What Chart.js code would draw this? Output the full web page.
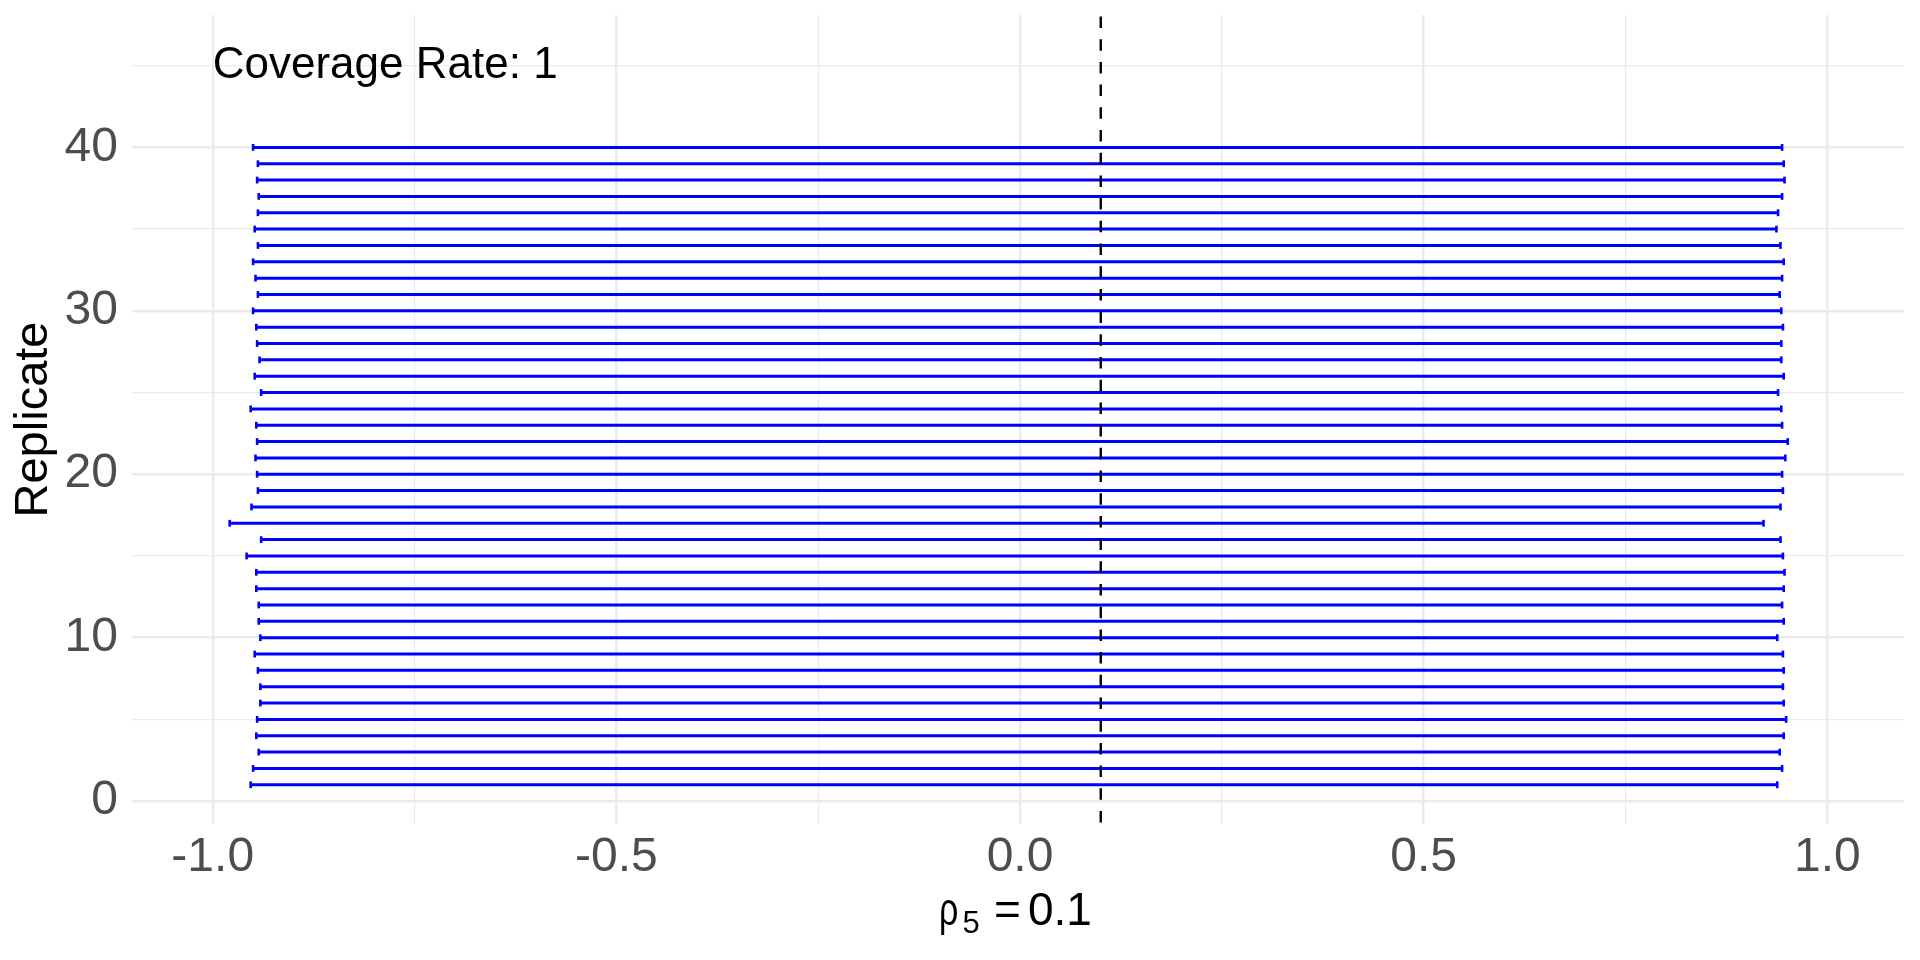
<!DOCTYPE html>
<html>
<head>
<meta charset="utf-8">
<script src="https://cdn.jsdelivr.net/npm/chart.js@4"></script>
<style>
  body { margin: 0; background: #fff; }
  #wrap { width: 1920px; height: 960px; }
</style>
</head>
<body>
<div id="wrap"><canvas id="ciChart"></canvas></div>
<script>
// replicate 1..40, interval ends
const replicates = Array.from({length: 40}, (_, i) => i + 1);
const lower = [-0.953, -0.950, -0.943, -0.946, -0.945, -0.941, -0.941, -0.944, -0.948, -0.941,
               -0.943, -0.943, -0.946, -0.946, -0.958, -0.940, -0.979, -0.952, -0.944, -0.945,
               -0.947, -0.945, -0.946, -0.953, -0.940, -0.948, -0.942, -0.945, -0.946, -0.950,
               -0.944, -0.947, -0.950, -0.944, -0.948, -0.944, -0.943, -0.945, -0.944, -0.950];
const upper = [0.938, 0.944, 0.941, 0.946, 0.949, 0.946, 0.945, 0.946, 0.945, 0.938,
               0.946, 0.944, 0.946, 0.947, 0.945, 0.942, 0.921, 0.942, 0.945, 0.944,
               0.948, 0.951, 0.944, 0.943, 0.939, 0.946, 0.943, 0.943, 0.945, 0.943,
               0.941, 0.944, 0.946, 0.942, 0.937, 0.939, 0.944, 0.947, 0.946, 0.944];
const trueValue = 0.1;
const coverageText = 'Coverage Rate: 1';
const coveragePos = {x: -1, y: 45};

const xTickVals = [-1, -0.75, -0.5, -0.25, 0, 0.25, 0.5, 0.75, 1];
const xTickLabels = {'-1': '-1.0', '-0.5': '-0.5', '0': '0.0', '0.5': '0.5', '1': '1.0'};
const yTickVals = [0, 5, 10, 15, 20, 25, 30, 35, 40, 45];
const yTickLabels = {0: '0', 10: '10', 20: '20', 30: '30', 40: '40'};

const FONT = '"Liberation Sans", Arial, sans-serif';

// build segments with null breaks between rows
const segs = [];
replicates.forEach((r, i) => {
    segs.push({x: lower[i], y: r});
    segs.push({x: upper[i], y: r});
    segs.push({x: null, y: null});
});

const extras = {
    id: 'extras',
    afterDatasetsDraw(chart) {
        const {ctx, chartArea, scales} = chart;
        // dashed reference line
        const px = scales.x.getPixelForValue(trueValue);
        ctx.save();
        ctx.strokeStyle = '#000';
        ctx.lineWidth = 2.4;
        ctx.setLineDash([11.5, 11.2]);
        ctx.beginPath();
        ctx.moveTo(px, chartArea.top + 1.5);
        ctx.lineTo(px, chartArea.bottom);
        ctx.stroke();
        ctx.restore();
    },
    afterDraw(chart) {
        const {ctx, chartArea, scales} = chart;
        ctx.save();
        // annotation
        ctx.fillStyle = '#000';
        ctx.font = '44px ' + FONT;
        ctx.textAlign = 'left';
        ctx.textBaseline = 'middle';
        ctx.fillText(coverageText, scales.x.getPixelForValue(coveragePos.x), scales.y.getPixelForValue(coveragePos.y));

        // x axis title: rho_5 = 0.1
        const cx = (chartArea.left + chartArea.right) / 2;
        const base = 925;
        ctx.textBaseline = 'alphabetic';
        ctx.save();
        ctx.translate(cx - 79, base);
        ctx.scale(0.74, 1.02);
        ctx.font = '46px ' + FONT;
        ctx.fillText('\u03C1', 0, 0);
        ctx.restore();
        ctx.font = '31px ' + FONT;
        ctx.fillText('5', cx - 55.5, base + 8);
        ctx.font = '46px ' + FONT;
        ctx.fillText('=', cx - 24, base);
        ctx.fillText('0.1', cx + 10, base);
        ctx.restore();
    }
};

new Chart(document.getElementById('ciChart'), {
    type: 'scatter',
    data: {
        datasets: [{
            data: segs,
            showLine: true,
            spanGaps: false,
            borderColor: '#0000FF',
            backgroundColor: '#0000FF',
            borderWidth: 3,
            pointStyle: 'line',
            rotation: 90,
            pointRadius: 3.4,
            pointBorderWidth: 2.6,
            pointBorderColor: '#0000FF'
        }]
    },
    options: {
        responsive: true,
        maintainAspectRatio: false,
        animation: false,
        layout: { padding: { top: 15, right: 16, left: 0, bottom: 0 } },
        plugins: { legend: { display: false }, tooltip: { enabled: false } },
        scales: {
            x: {
                type: 'linear',
                min: -1.1,
                max: 1.095,
                afterBuildTicks: s => { s.ticks = xTickVals.map(v => ({value: v})); },
                afterFit: s => { s.height = 136; s.paddingLeft = 0; s.paddingRight = 0; },
                border: { display: false },
                grid: {
                    drawTicks: false,
                    color: '#EBEBEB',
                    lineWidth: c => (xTickLabels[String(c.tick.value)] ? 2.4 : 1.2)
                },
                ticks: {
                    autoSkip: false,
                    maxRotation: 0,
                    padding: 5,
                    color: '#4D4D4D',
                    font: { family: FONT, size: 48 },
                    callback: v => xTickLabels[String(v)] || ''
                }
            },
            y: {
                type: 'linear',
                min: -1.4,
                max: 48.1,
                afterBuildTicks: s => { s.ticks = yTickVals.map(v => ({value: v})); },
                afterFit: s => { s.width = 132; s.paddingTop = 0; s.paddingBottom = 0; },
                border: { display: false },
                grid: {
                    drawTicks: false,
                    color: '#EBEBEB',
                    lineWidth: c => (yTickLabels[c.tick.value] ? 2.4 : 1.2)
                },
                ticks: {
                    autoSkip: false,
                    padding: 14,
                    color: '#4D4D4D',
                    font: { family: FONT, size: 48 },
                    callback: v => yTickLabels[v] || ''
                },
                title: {
                    display: true,
                    text: 'Replicate',
                    color: '#000',
                    font: { family: FONT, size: 47 },
                    padding: { top: 6, bottom: 4 }
                }
            }
        }
    },
    plugins: [extras]
});
</script>
</body>
</html>
